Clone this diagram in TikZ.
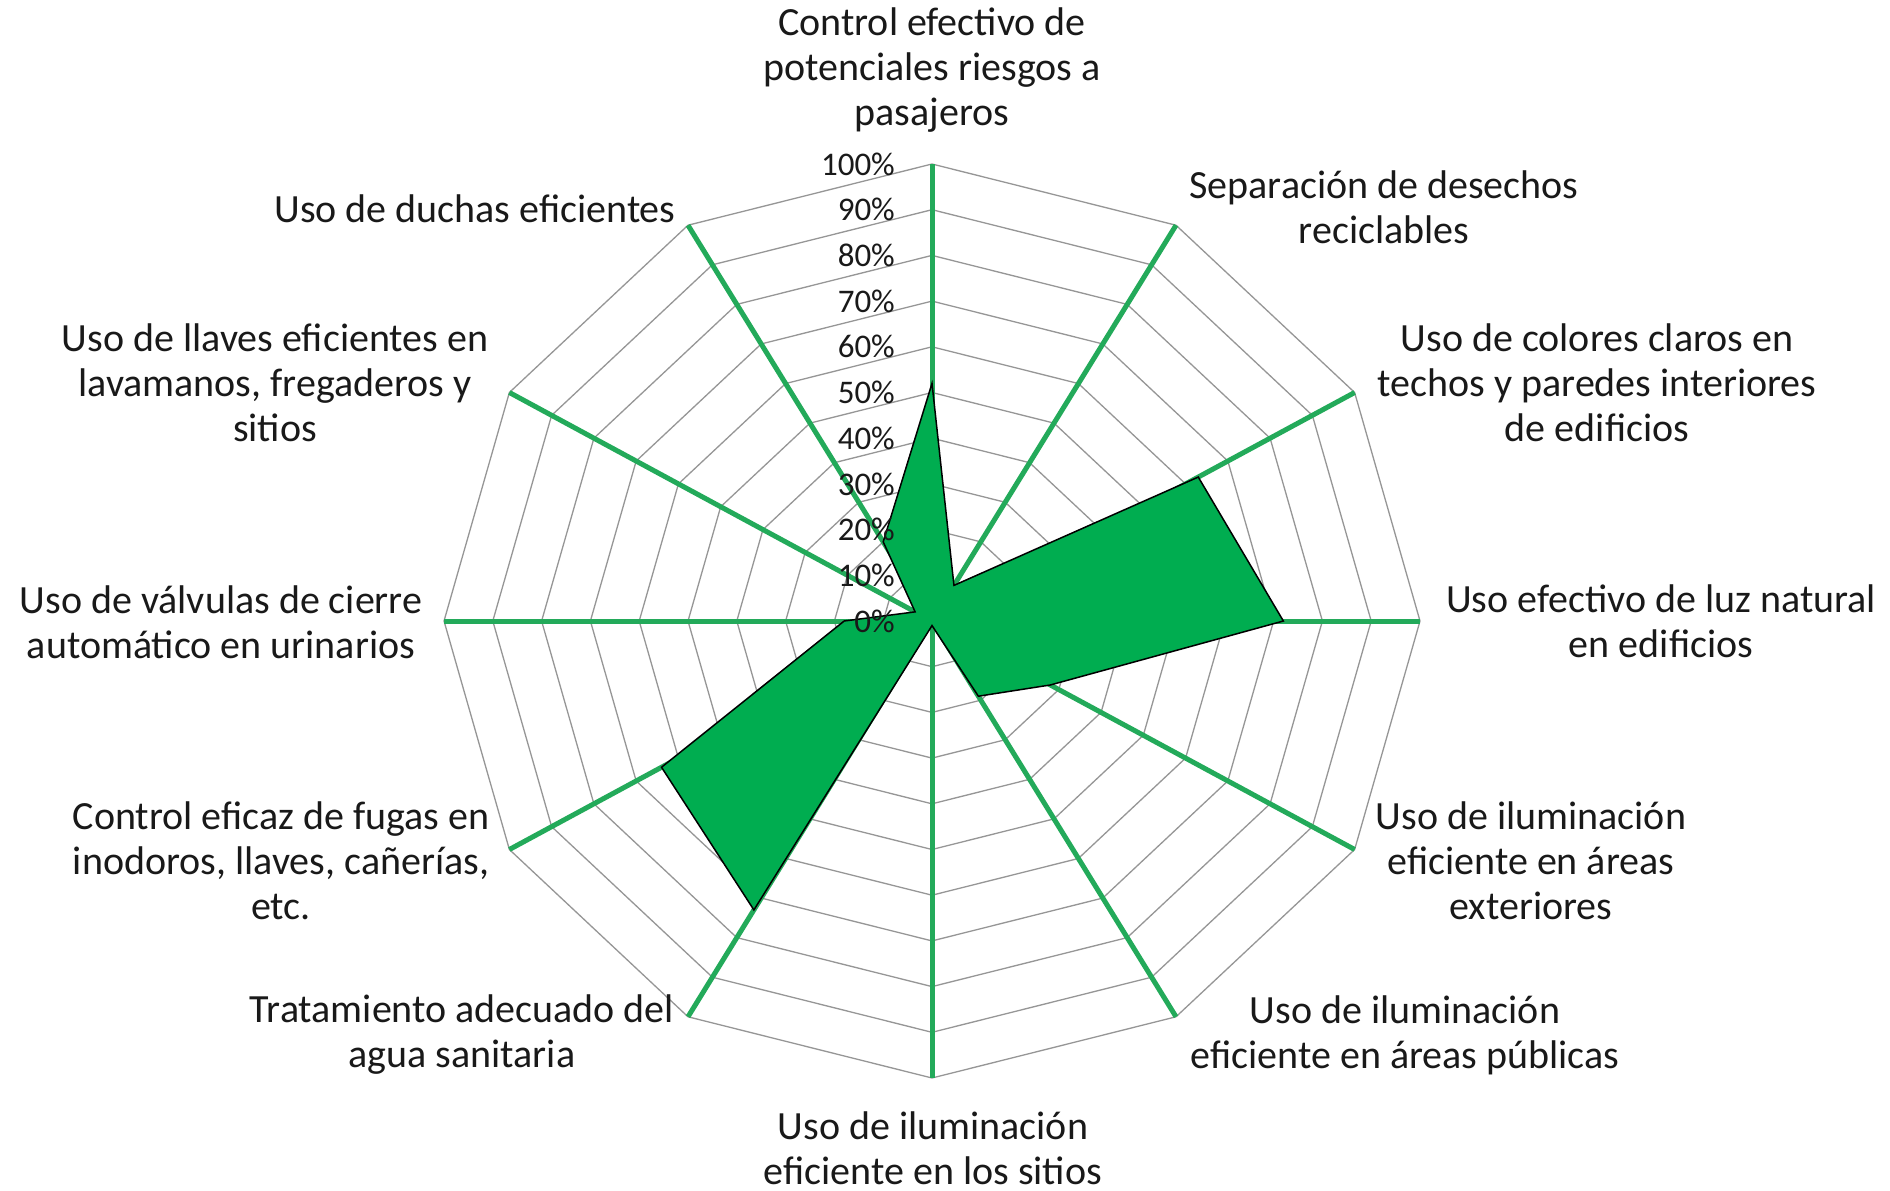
\documentclass[tikz,border=0pt]{standalone}
\usepackage{fontspec}
\setmainfont{Carlito}
\definecolor{gridgray}{RGB}{150,150,150}
\definecolor{axisgreen}{RGB}{35,170,90}
\definecolor{fillgreen}{RGB}{0,173,80}
\definecolor{txt}{RGB}{25,25,25}
\tikzset{
  gridline/.style={draw=gridgray, line width=1.3pt},
  spoke/.style={draw=axisgreen, line width=5pt},
  datapoly/.style={fill=fillgreen, draw=black, line width=1.5pt, line join=miter},
  ticklabel/.style={anchor=east, inner sep=0pt, text=txt, font=\fontsize{33}{36}\selectfont},
  catlabel/.style={align=center, inner sep=0pt, text=txt, font=\fontsize{40}{45}\selectfont}
}
\begin{document}
\begin{tikzpicture}[x=1pt,y=-1pt]
\useasboundingbox (0,0) rectangle (1890,1191);
\fill[white] (0,0) rectangle (1890,1191);
\coordinate (c) at (932,621);
% grid
\foreach \k in {1,...,10} {
  \draw[gridline] ({932},{621-45.7*\k})
    \foreach \a in {30,60,...,330} { -- ({932+48.8*\k*sin(\a)},{621-45.7*\k*cos(\a)}) } -- cycle;
}
% spokes
\foreach \a in {0,30,...,330} {
  \coordinate (e\a) at ({932+488*sin(\a)},{621-457*cos(\a)});
  \draw[spoke] (c) -- (e\a);
}
% data
\draw[datapoly]
  \foreach \a/\t [count=\i] in {0/0.52,30/0.09,60/0.63,90/0.72,120/0.28,150/0.19,180/0.01,210/0.73,240/0.64,270/0.18,300/0.04,330/0.20} {
    \ifnum\i=1 ({932+488*\t*sin(\a)},{621-457*\t*cos(\a)}) \else -- ({932+488*\t*sin(\a)},{621-457*\t*cos(\a)}) \fi
  } -- cycle;
% tick labels
\foreach \k in {0,...,10} {
  \pgfmathtruncatemacro\p{\k*10}
  \node[ticklabel] (t\k) at (895,{621-45.7*\k}) {\p\%};
}
% category labels
\node[catlabel] (l0) at (932,70) {Control efectivo de\\potenciales riesgos a\\pasajeros};
\node[catlabel] (l30) at (1384,207) {Separación de desechos\\reciclables};
\node[catlabel] (l60) at (1597,383) {Uso de colores claros en\\techos y paredes interiores\\de edificios};
\node[catlabel] (l90) at (1661,621) {Uso efectivo de luz natural\\en edificios};
\node[catlabel] (l120) at (1531,861) {Uso de iluminación\\eficiente en áreas\\exteriores};
\node[catlabel] (l150) at (1405,1035) {Uso de iluminación\\eficiente en áreas públicas};
\node[catlabel] (l180) at (933,1148) {Uso de iluminación\\eficiente en los sitios};
\node[catlabel] (l210) at (462,1035) {Tratamiento adecuado del\\agua sanitaria};
\node[catlabel] (l240) at (281,861) {Control eficaz de fugas en\\inodoros, llaves, cañerías,\\etc.};
\node[catlabel] (l270) at (221,622) {Uso de válvulas de cierre\\automático en urinarios};
\node[catlabel] (l300) at (275,383) {Uso de llaves eficientes en\\lavamanos, fregaderos y\\sitios};
\node[catlabel] (l330) at (475,209) {Uso de duchas eficientes};
\end{tikzpicture}
\end{document}
